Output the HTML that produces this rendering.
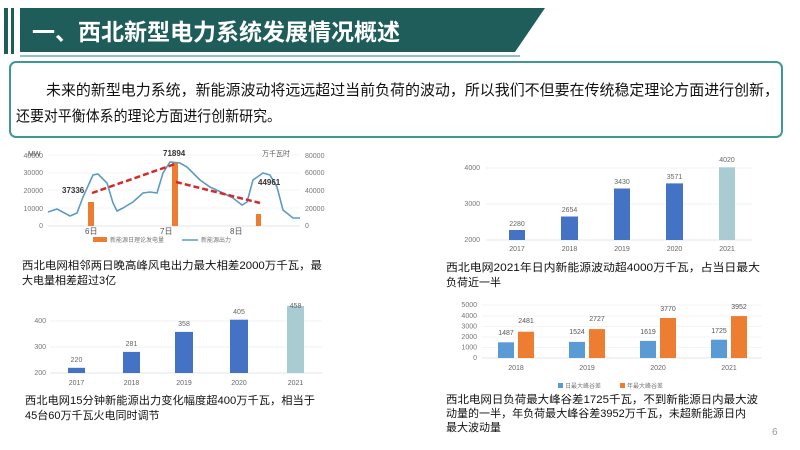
<!DOCTYPE html>
<html><head><meta charset="utf-8"><style>
html,body{margin:0;padding:0;background:#fff;}
svg{display:block;font-family:"Liberation Sans","Noto Sans CJK SC",sans-serif;}
</style></head><body>
<svg width="800" height="450" viewBox="0 0 800 450">
<!-- title -->
<rect x="4" y="8" width="4" height="46" fill="#1e5d5a"/>
<rect x="11" y="8" width="3" height="46" fill="#1e5d5a"/>
<polygon points="20,8 545,8 515,52 20,52" fill="#1e5d5a"/>
<line x1="20" y1="56" x2="520" y2="56" stroke="#8fc3bf" stroke-width="2"/>
<text x="32" y="40" font-size="23" font-weight="bold" fill="#fff">一、西北新型电力系统发展情况概述</text>
<!-- box -->
<rect x="10" y="62" width="772" height="75" rx="6" fill="#fff" stroke="#3d9a92" stroke-width="2"/>
<text x="46" y="95" font-size="15" fill="#111" textLength="733" lengthAdjust="spacingAndGlyphs">未来的新型电力系统，新能源波动将远远超过当前负荷的波动，所以我们不但要在传统稳定理论方面进行创新，</text>
<text x="16" y="121" font-size="15" fill="#111" textLength="265" lengthAdjust="spacingAndGlyphs">还要对平衡体系的理论方面进行创新研究。</text>

<!-- top-left chart -->
<g font-size="7" fill="#777">
<text x="43" y="158" text-anchor="end">40000</text>
<text x="43" y="175" text-anchor="end">30000</text>
<text x="43" y="193" text-anchor="end">20000</text>
<text x="43" y="211" text-anchor="end">10000</text>
<text x="43" y="228" text-anchor="end">0</text>
<text x="305" y="158">80000</text><text x="305" y="175">60000</text><text x="305" y="193">40000</text><text x="305" y="211">20000</text><text x="305" y="228">0</text>
<text x="28" y="156" fill="#555">MW</text>
<text x="262" y="156" fill="#555">万千瓦时</text>
</g>
<g stroke="#eee" stroke-width="0.6">
<line x1="48" y1="155" x2="300" y2="155"/><line x1="48" y1="173" x2="300" y2="173"/><line x1="48" y1="190" x2="300" y2="190"/><line x1="48" y1="208" x2="300" y2="208"/><line x1="48" y1="226" x2="300" y2="226" stroke="#ccc"/>
</g>
<rect x="88" y="202" width="6" height="24" fill="#ed7d31"/>
<rect x="172" y="162" width="6" height="64" fill="#ed7d31"/>
<rect x="256" y="214" width="5" height="12" fill="#ed7d31"/>
<polyline fill="none" stroke="#5b9bc5" stroke-width="1.6" points="48,212 57,209 70,216 77,213 83,197 93,175 98,174 107,183 113,203 117,211 123,208 133,202 143,193 150,192 157,193 163,173 170,162 180,163 187,167 200,180 210,187 223,193 233,198 242,205 247,202 253,180 263,173 270,175 277,187 283,210 293,218 300,218"/>
<line x1="92" y1="193" x2="175" y2="164" stroke="#d42a2a" stroke-width="2.5" stroke-dasharray="6,3"/>
<line x1="176" y1="182" x2="260" y2="203" stroke="#d42a2a" stroke-width="2.5" stroke-dasharray="6,3"/>
<g font-size="8" font-weight="bold" fill="#333">
<text x="62" y="193">37336</text><text x="163" y="156">71894</text><text x="258" y="185">44961</text>
</g>
<g font-size="8" fill="#555"><text x="85" y="234">6日</text><text x="160" y="234">7日</text><text x="230" y="234">8日</text></g>
<rect x="93" y="237" width="14" height="5" fill="#ed7d31"/>
<text x="110" y="242" font-size="6" fill="#777">新能源日理论发电量</text>
<line x1="182" y1="240" x2="198" y2="240" stroke="#5b9bc5" stroke-width="1.5"/>
<text x="201" y="242" font-size="6" fill="#777">新能源出力</text>
<text x="22" y="269" font-size="11" fill="#111" textLength="300" lengthAdjust="spacingAndGlyphs">西北电网相邻两日晚高峰风电出力最大相差2000万千瓦，最</text>
<text x="22" y="284" font-size="11" fill="#111">大电量相差超过3亿</text>

<!-- top-right chart -->
<g stroke="#e5e5e5" stroke-width="0.6"><line x1="486" y1="168" x2="752" y2="168"/><line x1="486" y1="204" x2="752" y2="204"/><line x1="486" y1="240" x2="752" y2="240" stroke="#ccc"/></g>
<g font-size="7" fill="#777" text-anchor="end"><text x="480" y="170">4000</text><text x="480" y="206">3000</text><text x="480" y="242">2000</text></g>
<g fill="#4472c4">
<rect x="509" y="230" width="16" height="10"/><rect x="561" y="216.5" width="17" height="23.5"/><rect x="614" y="188.5" width="16" height="51.5"/><rect x="666" y="183.4" width="17" height="56.6"/>
</g>
<rect x="719" y="167.3" width="16" height="72.7" fill="#a9cbd2"/>
<g font-size="7" fill="#666" text-anchor="middle">
<text x="517" y="226">2280</text><text x="569.5" y="212">2654</text><text x="622" y="184">3430</text><text x="674.5" y="179">3571</text><text x="727" y="162">4020</text>
<text x="517" y="251">2017</text><text x="569.5" y="251">2018</text><text x="622" y="251">2019</text><text x="674.5" y="251">2020</text><text x="727" y="251">2021</text>
</g>
<text x="446" y="271" font-size="11" fill="#111" textLength="314" lengthAdjust="spacingAndGlyphs">西北电网2021年日内新能源波动超4000万千瓦，占当日最大</text>
<text x="446" y="286" font-size="11" fill="#111">负荷近一半</text>

<!-- bottom-left chart -->
<g stroke="#e5e5e5" stroke-width="0.6"><line x1="50" y1="321" x2="322" y2="321"/><line x1="50" y1="347" x2="322" y2="347"/><line x1="50" y1="373" x2="322" y2="373" stroke="#ccc"/></g>
<g font-size="7" fill="#777" text-anchor="end"><text x="46" y="323">400</text><text x="46" y="349">300</text><text x="46" y="375">200</text></g>
<g fill="#4472c4">
<rect x="68" y="367.8" width="17" height="5.2"/><rect x="123" y="351.9" width="17" height="21.1"/><rect x="175" y="331.9" width="18" height="41.1"/><rect x="230" y="319.7" width="18" height="53.3"/>
</g>
<rect x="287" y="305.9" width="17" height="67.1" fill="#a9cbd2"/>
<g font-size="7" fill="#666" text-anchor="middle">
<text x="76.5" y="362">220</text><text x="131.5" y="346">281</text><text x="184" y="326">358</text><text x="239" y="314">405</text><text x="295.5" y="308">458</text>
<text x="76.5" y="385">2017</text><text x="131.5" y="385">2018</text><text x="184" y="385">2019</text><text x="239" y="385">2020</text><text x="295.5" y="385">2021</text>
</g>
<text x="25" y="404" font-size="11" fill="#111" textLength="290" lengthAdjust="spacingAndGlyphs">西北电网15分钟新能源出力变化幅度超400万千瓦，相当于</text>
<text x="25" y="419" font-size="11" fill="#111">45台60万千瓦火电同时调节</text>

<!-- bottom-right chart -->
<g stroke="#e8e8e8" stroke-width="0.5"><line x1="482" y1="305" x2="762" y2="305"/><line x1="482" y1="316" x2="762" y2="316"/><line x1="482" y1="326.5" x2="762" y2="326.5"/><line x1="482" y1="337" x2="762" y2="337"/><line x1="482" y1="347.5" x2="762" y2="347.5"/><line x1="482" y1="358" x2="762" y2="358" stroke="#ccc"/></g>
<g font-size="7" fill="#777" text-anchor="end"><text x="477" y="307">5000</text><text x="477" y="318">4000</text><text x="477" y="328.5">3000</text><text x="477" y="339">2000</text><text x="477" y="349.5">1000</text><text x="477" y="360">0</text></g>
<g fill="#5b9bd5">
<rect x="498" y="342.3" width="16" height="15.7"/><rect x="569" y="341.9" width="16" height="16.1"/><rect x="640" y="340.9" width="16" height="17.1"/><rect x="711" y="339.7" width="16" height="18.3"/>
</g>
<g fill="#ed7d31">
<rect x="518" y="331.7" width="16" height="26.3"/><rect x="589" y="329.1" width="16" height="28.9"/><rect x="660" y="318" width="16" height="40"/><rect x="731" y="316.1" width="16" height="41.9"/>
</g>
<g font-size="7" fill="#555" text-anchor="middle">
<text x="506" y="335">1487</text><text x="526" y="323">2481</text><text x="577" y="334">1524</text><text x="597" y="321">2727</text><text x="648" y="334">1619</text><text x="668" y="311">3770</text><text x="719" y="333">1725</text><text x="739" y="309">3952</text>
<text x="516" y="370" fill="#666">2018</text><text x="587" y="370" fill="#666">2019</text><text x="658" y="370" fill="#666">2020</text><text x="729" y="370" fill="#666">2021</text>
</g>
<rect x="558" y="383" width="5" height="5" fill="#5b9bd5"/><text x="565" y="388" font-size="6" fill="#777">日最大峰谷差</text>
<rect x="620" y="383" width="5" height="5" fill="#ed7d31"/><text x="627" y="388" font-size="6" fill="#777">年最大峰谷差</text>
<text x="446" y="403" font-size="11" fill="#111" textLength="312" lengthAdjust="spacingAndGlyphs">西北电网日负荷最大峰谷差1725千瓦，不到新能源日内最大波</text>
<text x="446" y="417" font-size="11" fill="#111" textLength="300" lengthAdjust="spacingAndGlyphs">动量的一半，年负荷最大峰谷差3952万千瓦，未超新能源日内</text>
<text x="446" y="431" font-size="11" fill="#111">最大波动量</text>
<text x="772" y="435" font-size="10" fill="#999">6</text>
</svg>
</body></html>
